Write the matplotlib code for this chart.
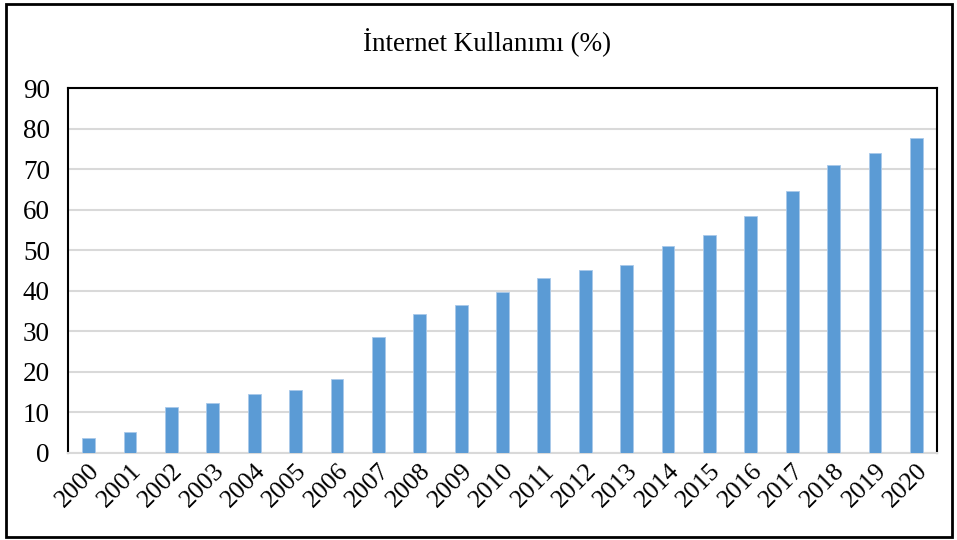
import matplotlib.pyplot as plt
from matplotlib.patches import Rectangle

# values
years = [str(y) for y in range(2000, 2021)]
usage = [3.76, 5.19, 11.38, 12.33, 14.58, 15.46, 18.24, 28.63, 34.37, 36.4, 39.82,
         43.07, 45.13, 46.25, 51.04, 53.74, 58.35, 64.68, 71.04, 73.98, 77.67]

plt.rcParams['font.family'] = ['Liberation Serif', 'DejaVu Serif']

fig = plt.figure(figsize=(9.57, 5.4), dpi=100)
ax = fig.add_axes([68 / 957, 1 - 453 / 540, 869 / 957, 365 / 540])

ax.bar(range(len(years)), usage, width=0.31, color='#5B9BD5',
       edgecolor='#A9C9EA', linewidth=0.6, zorder=3)

ax.set_xlim(-0.5, len(years) - 0.5)
ax.set_ylim(0, 90)
ax.set_yticks(range(0, 91, 10))
ax.set_xticks(range(len(years)))
ax.set_xticklabels(years, rotation=45, ha='right', rotation_mode='anchor')
ax.tick_params(axis='both', length=0)
ax.tick_params(axis='y', pad=13, labelsize=19.5)
ax.tick_params(axis='x', pad=5, labelsize=18.5)
ax.grid(axis='y', color='#D9D9D9', linewidth=1.5, zorder=0)

for side in ['left', 'top', 'right']:
    ax.spines[side].set_color('black')
    ax.spines[side].set_linewidth(1.5)
ax.spines['bottom'].set_color('#D9D9D9')
ax.spines['bottom'].set_linewidth(1.5)

fig.text(487 / 957, 1 - 43 / 540, "İnternet Kullanımı (%)", fontsize=19.5,
         ha='center', va='center')

# outer frame around the whole figure
fig.patches.append(Rectangle((6 / 957, 3 / 540), 946 / 957, 533 / 540,
                             transform=fig.transFigure, fill=False,
                             edgecolor='black', linewidth=2))

fig.savefig('out.png', dpi=100)
